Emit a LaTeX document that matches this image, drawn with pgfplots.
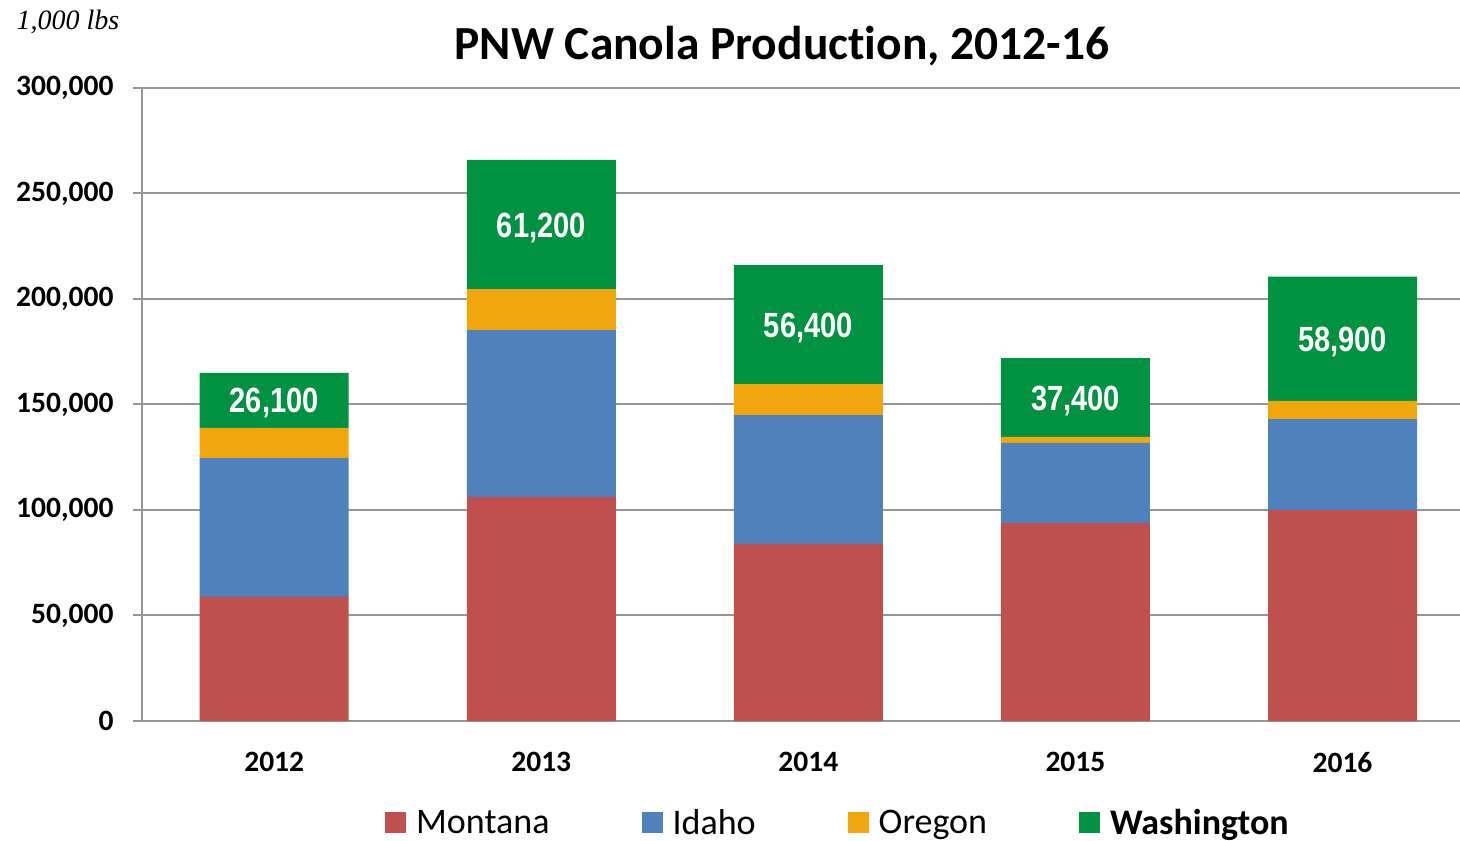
\documentclass[border=0pt]{standalone}
\usepackage{pgfplots}
\usepackage{pgfplotstable}
\pgfplotsset{compat=1.18}
\usepackage{fontspec}
\setmainfont[Ligatures=NoCommon]{Carlito}
\newfontfamily\labelfont[FakeStretch=0.83]{Liberation Sans}
\newfontfamily\unitfont{Liberation Serif}

\definecolor{montana}{RGB}{192,80,77}
\definecolor{idaho}{RGB}{79,129,189}
\definecolor{oregon}{RGB}{242,166,14}
\definecolor{washington}{RGB}{0,146,64}
\definecolor{gridgray}{RGB}{150,150,150}

% 1,000 lbs
\pgfplotstableread{
x year montana idaho oregon washington
0 2012 58800  65800 14300 26100
1 2013 106200 79100 19400 61200
2 2014 84000  61000 14700 56400
3 2015 93800  38000 2800  37400
4 2016 100000 43100 8600  58900
}\canola
% middle of the Washington segment, for its label
\pgfplotstablecreatecol[create col/expr={\thisrow{montana}+\thisrow{idaho}+\thisrow{oregon}+0.5*\thisrow{washington}}]{mid}\canola

\pgfplotsset{frame/.style={
  at={(142pt,120pt)}, anchor=south west,
  scale only axis, width=1318pt, height=633pt,
  xmin=-0.495, xmax=4.44, ymin=0, ymax=300000,
}}

\begin{document}
\begin{tikzpicture}
\useasboundingbox (0pt,0pt) rectangle (1460pt,841pt);
\node[anchor=west, font=\unitfont\itshape\fontsize{28}{30}\selectfont] at (13pt,819pt) {1,000 lbs};
\node[font=\bfseries\fontsize{47.5}{50}\selectfont] at (782pt,795pt) {PNW Canola Production, 2012-16};

\begin{axis}[
  frame,
  ybar stacked, bar width=149pt,
  xtick={0,1,2,3,4}, xticklabels={2012,2013,2014,2015,2016},
  ytick={0,50000,100000,150000,200000,250000,300000},
  scaled y ticks=false,
  /pgf/number format/.cd, fixed, 1000 sep={,}, assume math mode=true,
  /pgfplots/.cd,
  axis x line=bottom, axis y line=left,
  axis line style={-, draw=gridgray, line width=2pt},
  ymajorgrids, grid style={draw=gridgray, line width=2pt},
  tick align=outside, major tick length=9pt,
  ytick style={draw=gridgray, line width=2pt},
  xtick style={draw=none},
  ticklabel style={font=\bfseries\fontsize{29.5}{30}\selectfont},
  yticklabel style={xshift=-16pt},
  xticklabel style={yshift=-19pt},
  legend style={
    at={(0.528,-0.161)}, anchor=center,
    draw=none, fill=none,
    font=\fontsize{36}{38}\selectfont,
    /tikz/every even column/.append style={column sep=90pt},
  },
  legend columns=4,
  legend image code/.code={\fill[#1] (0pt,-10.5pt) rectangle (21pt,10.5pt); \path (29pt,0pt);},
  legend cell align=left,
]
\addplot[fill=montana, draw=none] table[x=x, y=montana] {\canola};
\addlegendentry{Montana}
\addplot[fill=idaho, draw=none] table[x=x, y=idaho] {\canola};
\addlegendentry{Idaho}
\addplot[fill=oregon, draw=none] table[x=x, y=oregon] {\canola};
\addlegendentry{Oregon}
\addplot[fill=washington, draw=none] table[x=x, y=washington] {\canola};
\addlegendentry{\textbf{Washington}}
\end{axis}

\begin{axis}[frame, hide axis,
  /pgf/number format/.cd, fixed, 1000 sep={,}, assume math mode=true,
  /pgfplots/.cd]
\addplot[draw=none, mark=none, nodes near coords, point meta=\thisrow{washington},
  every node near coord/.append style={anchor=center, text=white, yshift=-3pt,
    font=\labelfont\bfseries\fontsize{35}{36}\selectfont}]
  table[x=x, y=mid] {\canola};
\end{axis}
\end{tikzpicture}
\end{document}
